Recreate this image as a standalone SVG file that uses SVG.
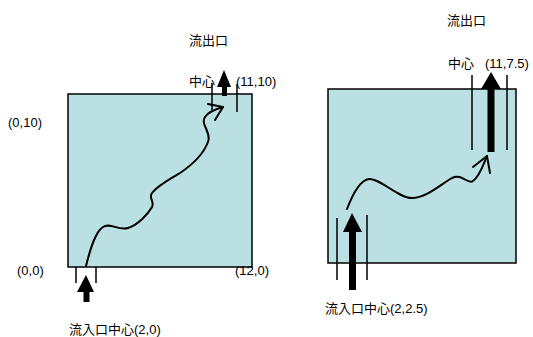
<svg xmlns="http://www.w3.org/2000/svg" width="533" height="337" viewBox="0 0 533 337">
<style>
.box{fill:#bbe0e3;stroke:#000;stroke-width:1.5}
.t{font-family:"Liberation Sans","Noto Sans CJK JP",sans-serif;font-size:13px;fill:#000}
.ln{stroke:#000;stroke-width:1.5;fill:none}
.cv{stroke:#000;stroke-width:2;fill:none;stroke-linecap:round;stroke-linejoin:round}
.ar{fill:#000}
</style>
<g id="left-domain">
<rect class="box" x="68" y="94" width="184" height="173"/>
</g>
<g id="right-domain">
<rect class="box" x="328" y="89" width="188" height="174"/>
</g>
<g id="connectors">
<path class="cv" d="M86,266 C90,250 95,232 103,227 C110,222 118,231 128,228 C138,225 148,214 152,207 C155,201 148,198 152,193 C158,185 172,178 180,173 C192,165 203,155 208,142 C212,132 200,125 205,117 C208,112 216,109 223,107"/>
<path class="cv" d="M208,104 L223,107 L215,120"/>
<path class="cv" d="M347,209 C352,196 360,180 369,179 C380,178 398,198 412,198 C426,198 440,185 452,178 C462,173 468,185 473,181 C480,176 483,165 487,156"/>
<path class="cv" d="M473,167 L487,156 L490,173"/>
</g>
<g id="left-outlet">
<line class="ln" x1="212" y1="83" x2="212" y2="110"/>
<line class="ln" x1="237" y1="84" x2="237" y2="112"/>
<polygon class="ar" points="224,70 231,87 227,87 227,96 222,96 222,87 217,87"/>
<text class="t" x="189" y="45">流出口</text>
<text class="t" x="189" y="86">中心</text>
<text class="t" x="236" y="86">(11,10)</text>
</g>
<g id="left-inlet">
<line class="ln" x1="76" y1="267" x2="76" y2="283"/>
<line class="ln" x1="96" y1="267" x2="96" y2="283"/>
<polygon class="ar" points="86,275 94,292 89.5,292 89.5,302 83.5,302 83.5,292 77,292"/>
<text class="t" x="69" y="334">流入口中心(2,0)</text>
</g>
<g id="left-labels">
<text class="t" x="8" y="127">(0,10)</text>
<text class="t" x="17" y="275">(0,0)</text>
<text class="t" x="235" y="275">(12,0)</text>
</g>
<g id="right-outlet">
<line class="ln" x1="472" y1="75" x2="472" y2="150"/>
<line class="ln" x1="507" y1="75" x2="507" y2="150"/>
<polygon class="ar" points="491,72 501,89 494.5,89 494.5,152 487.5,152 487.5,89 481,89"/>
<text class="t" x="447" y="25">流出口</text>
<text class="t" x="448" y="68">中心</text>
<text class="t" x="485" y="68">(11,7.5)</text>
</g>
<g id="right-inlet">
<line class="ln" x1="337" y1="218" x2="337" y2="280"/>
<line class="ln" x1="367" y1="215" x2="367" y2="280"/>
<polygon class="ar" points="352,213 362,232 356,232 356,290 349,290 349,232 343,232"/>
<text class="t" x="325" y="313">流入口中心(2,2.5)</text>
</g>
</svg>
